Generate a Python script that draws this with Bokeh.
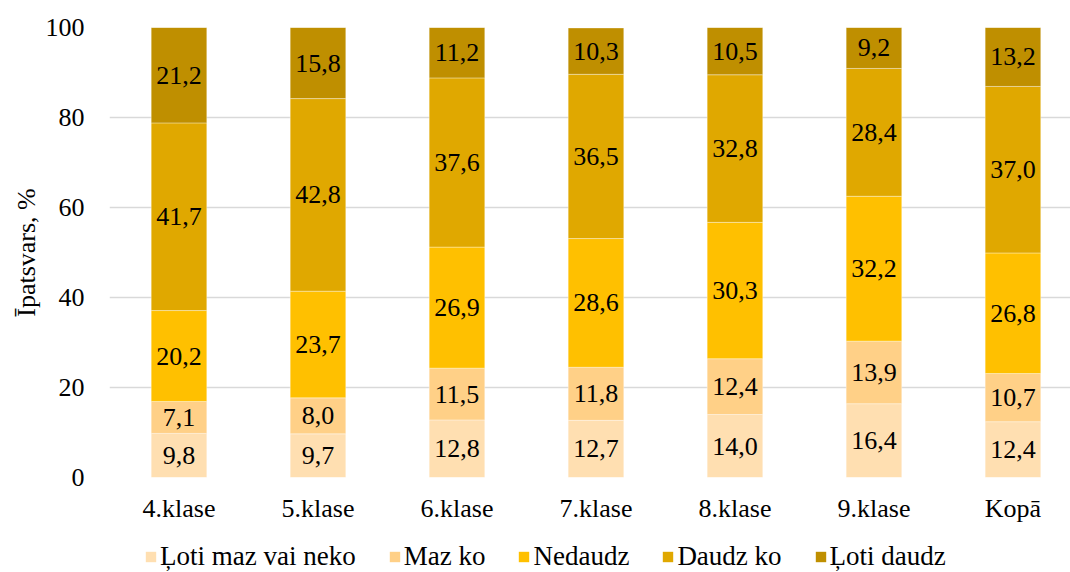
from bokeh.plotting import figure
from bokeh.layouts import column
from bokeh.models import (ColumnDataSource, Range1d, FixedTicker, Legend, LegendItem)
from bokeh.core.properties import value
from bokeh.embed import file_html
from bokeh.resources import INLINE

categories = ["4.klase", "5.klase", "6.klase", "7.klase", "8.klase", "9.klase", "Kopā"]
series_names = ["Ļoti maz vai neko", "Maz ko", "Nedaudz", "Daudz ko", "Ļoti daudz"]
loti_maz = [9.8, 9.7, 12.8, 12.7, 14.0, 16.4, 12.4]
maz_ko = [7.1, 8.0, 11.5, 11.8, 12.4, 13.9, 10.7]
nedaudz = [20.2, 23.7, 26.9, 28.6, 30.3, 32.2, 26.8]
daudz_ko = [41.7, 42.8, 37.6, 36.5, 32.8, 28.4, 37.0]
loti_daudz = [21.2, 15.8, 11.2, 10.3, 10.5, 9.2, 13.2]
y_ticks = [0, 20, 40, 60, 80, 100]

colors = ["#FFDFB1", "#FFD087", "#FFC000", "#E0A800", "#BF8F00"]
series = [loti_maz, maz_ko, nedaudz, daudz_ko, loti_daudz]
keys = ["s0", "s1", "s2", "s3", "s4"]

FONT = "Liberation Serif"
FS = "26px"

xs = [i + 0.5 for i in range(len(categories))]
data = {"x": xs}
for k, s in zip(keys, series):
    data[k] = s
source = ColumnDataSource(data)

p = figure(width=1070, height=532, output_backend="svg", toolbar_location=None,
           x_range=Range1d(0, 6.914), y_range=Range1d(0, 100),
           min_border_left=109, min_border_right=0, min_border_top=27,
           min_border_bottom=55)
p.background_fill_color = "white"
p.border_fill_color = "white"
p.outline_line_color = None

renderers = p.vbar_stack(keys, x="x", width=0.4, source=source, color=colors,
                         line_color="white", line_width=0.6, line_alpha=0.6)

# labels
lx, ly, lt = [], [], []
for i in range(len(categories)):
    bottom = 0.0
    for s in series:
        v = s[i]
        lx.append(xs[i])
        ly.append(bottom + v / 2)
        lt.append(f"{v:.1f}".replace(".", ","))
        bottom += v
p.text(x=lx, y=ly, text=lt, text_align="center", text_baseline="middle",
       text_font=value(FONT), text_font_size=FS, text_color="black")

# axes
p.xaxis.ticker = FixedTicker(ticks=xs)
p.xaxis.major_label_overrides = {x: c for x, c in zip(xs, categories)}
p.xaxis.axis_line_color = None
p.xaxis.major_tick_line_color = None
p.xaxis.minor_tick_line_color = None
p.xaxis.major_label_standoff = 10
p.xaxis.major_label_text_font = FONT
p.xaxis.major_label_text_font_size = FS
p.xaxis.major_label_text_color = "black"

p.yaxis.ticker = FixedTicker(ticks=y_ticks)
p.yaxis.axis_line_color = None
p.yaxis.major_tick_line_color = None
p.yaxis.minor_tick_line_color = None
p.yaxis.major_label_standoff = 19
p.yaxis.major_label_text_font = FONT
p.yaxis.major_label_text_font_size = FS
p.yaxis.major_label_text_color = "black"
p.yaxis.axis_label = "Īpatsvars, %"
p.yaxis.axis_label_text_font = FONT
p.yaxis.axis_label_text_font_size = FS
p.yaxis.axis_label_text_font_style = "normal"
p.yaxis.axis_label_text_color = "black"
p.yaxis.axis_label_standoff = 2

p.xgrid.grid_line_color = None
p.ygrid.ticker = FixedTicker(ticks=y_ticks)
p.ygrid.grid_line_color = "#D9D9D9"
p.ygrid.grid_line_width = 1.5

# legend strip (separate canvas so it is not clipped by the plot frame)
lg = figure(width=1070, height=40, output_backend="svg", toolbar_location=None,
            x_range=Range1d(0, 1), y_range=Range1d(0, 1),
            x_axis_type=None, y_axis_type=None,
            min_border_left=0, min_border_right=0, min_border_top=0, min_border_bottom=0)
lg.outline_line_color = None
lg.xgrid.visible = False
lg.ygrid.visible = False
lg.background_fill_color = "white"
lg.border_fill_color = "white"
dummy = ColumnDataSource(dict(x=[float("nan")], top=[float("nan")]))
leg_renderers = [lg.vbar(x="x", top="top", width=0.1, source=dummy, color=c, line_color=None)
                 for c in colors]

legend = Legend(items=[LegendItem(label=n, renderers=[r]) for n, r in zip(series_names, leg_renderers)],
                orientation="horizontal", location=(35, 0),
                glyph_width=13, glyph_height=13, label_standoff=3, spacing=32,
                padding=0, margin=0, border_line_color=None,
                background_fill_alpha=0,
                label_text_font=FONT, label_text_font_size="27px", label_text_color="black")
lg.add_layout(legend, "center")

layout = column(p, lg, spacing=0)
open("out.html", "w").write(file_html(layout, INLINE))
